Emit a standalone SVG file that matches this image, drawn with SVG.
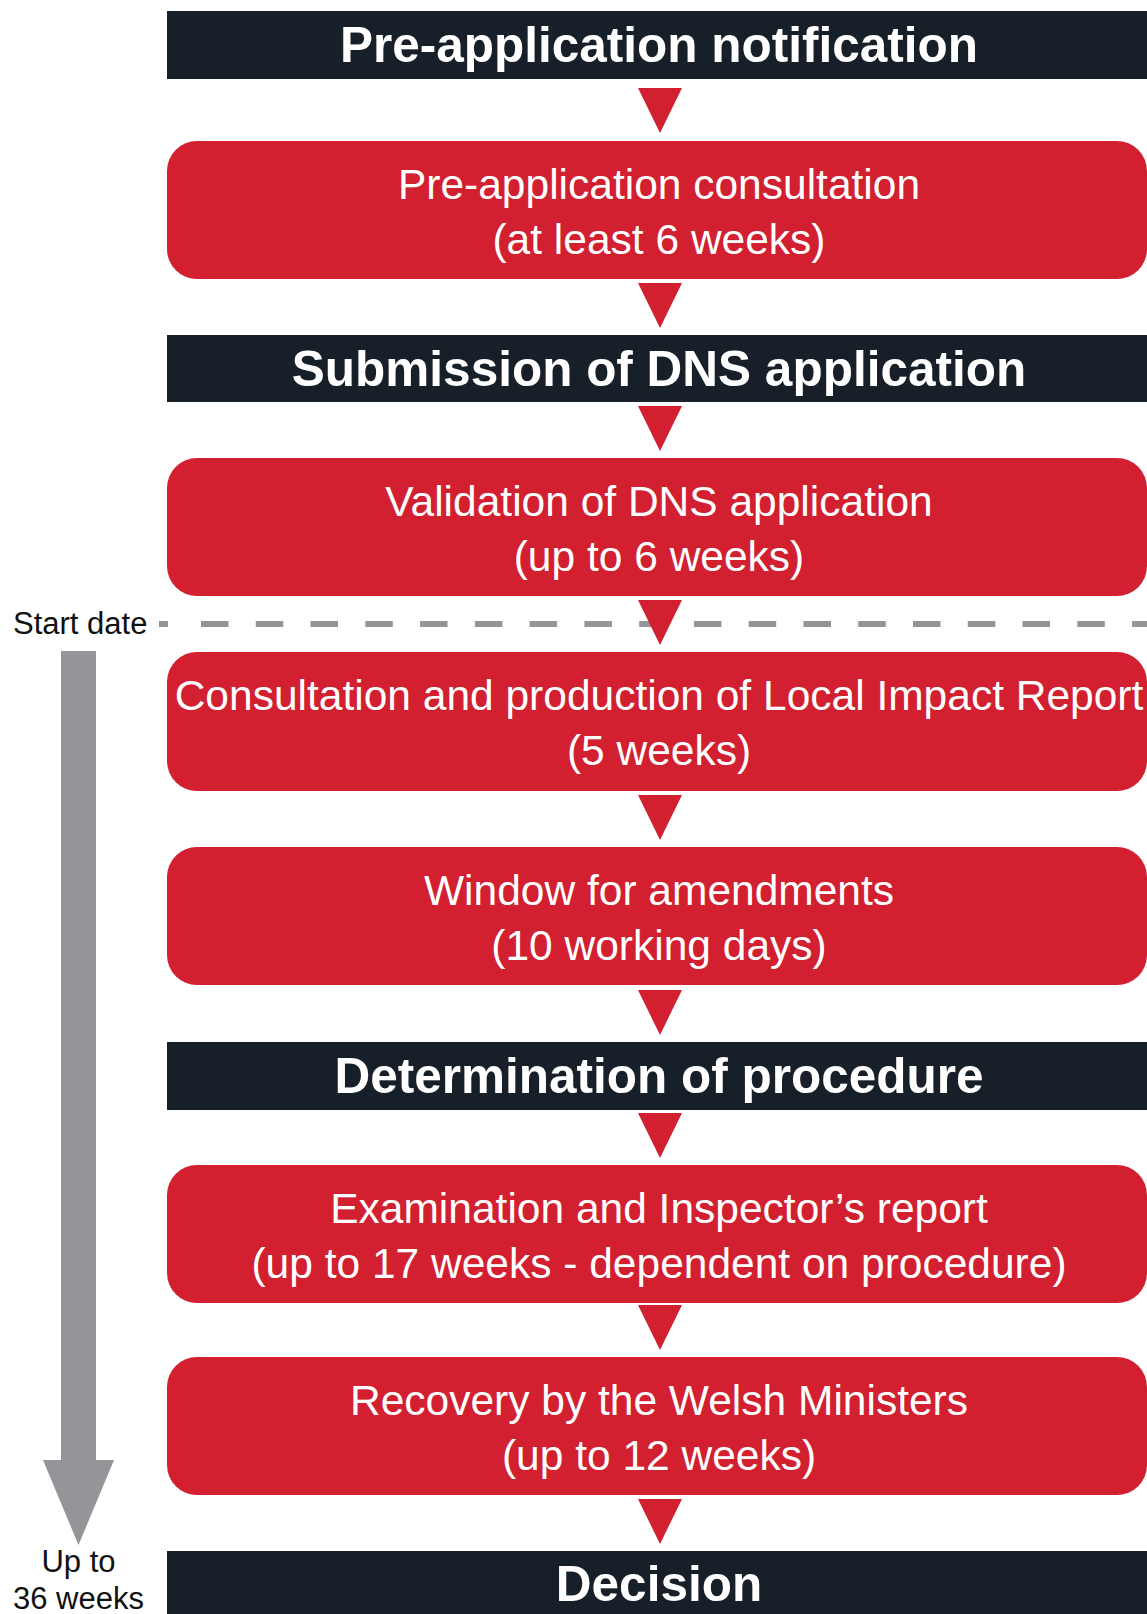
<svg xmlns="http://www.w3.org/2000/svg" width="1147" height="1614" viewBox="0 0 1147 1614">
  <defs>
    <style>
      .hdr { fill: #171f29; }
      .box { fill: #d22030; }
      .tri { fill: #d22030; }
      .ht { font-family: "Liberation Sans", Arial, sans-serif; font-weight: bold; font-size: 49.5px; fill: #ffffff; text-anchor: middle; }
      .bt { font-family: "Liberation Sans", Arial, sans-serif; font-size: 42.5px; fill: #ffffff; text-anchor: middle; }
      .side { font-family: "Liberation Sans", Arial, sans-serif; font-size: 31px; fill: #111111; }
    </style>
  </defs>
  <rect width="1147" height="1614" fill="#ffffff"/>

  <g id="timeline">
    <line x1="159" y1="624" x2="168" y2="624" stroke="#939598" stroke-width="6"/>
    <line x1="201" y1="624" x2="1147" y2="624" stroke="#939598" stroke-width="6" stroke-dasharray="27.5 27.27"/>
    <text class="side" x="13" y="634">Start date</text>
    <path d="M61 651 H96 V1460 H114 L78.5 1545 L43 1460 H61 Z" fill="#939598"/>
    <text class="side" x="78.5" y="1572" text-anchor="middle">Up to</text>
    <text class="side" x="78.5" y="1609" text-anchor="middle">36 weeks</text>
  </g>

  <g id="connectors">
    <polygon class="tri" points="638,88 682,88 660,133"/>
    <polygon class="tri" points="638,283 682,283 660,328"/>
    <polygon class="tri" points="638,406 682,406 660,451"/>
    <polygon class="tri" points="638,600 682,600 660,645"/>
    <polygon class="tri" points="638,795 682,795 660,840"/>
    <polygon class="tri" points="638,990 682,990 660,1035"/>
    <polygon class="tri" points="638,1113 682,1113 660,1158"/>
    <polygon class="tri" points="638,1305 682,1305 660,1350"/>
    <polygon class="tri" points="638,1499 682,1499 660,1544"/>
  </g>

  <g id="n1">
    <rect class="hdr" x="167" y="11" width="980" height="68"/>
    <text class="ht" x="659" y="62">Pre-application notification</text>
  </g>
  <g id="n2">
    <rect class="box" x="167" y="141" width="980" height="138" rx="30"/>
    <text class="bt" x="659" y="198.5">Pre-application consultation</text>
    <text class="bt" x="659" y="253.5">(at least 6 weeks)</text>
  </g>
  <g id="n3">
    <rect class="hdr" x="167" y="335" width="980" height="67"/>
    <text class="ht" x="659" y="386">Submission of DNS application</text>
  </g>
  <g id="n4">
    <rect class="box" x="167" y="458" width="980" height="138" rx="30"/>
    <text class="bt" x="659" y="515.5">Validation of DNS application</text>
    <text class="bt" x="659" y="570.5">(up to 6 weeks)</text>
  </g>
  <g id="n5">
    <rect class="box" x="167" y="652" width="980" height="139" rx="30"/>
    <text class="bt" x="659" y="709.5">Consultation and production of Local Impact Report</text>
    <text class="bt" x="659" y="764.5">(5 weeks)</text>
  </g>
  <g id="n6">
    <rect class="box" x="167" y="847" width="980" height="138" rx="30"/>
    <text class="bt" x="659" y="904.5">Window for amendments</text>
    <text class="bt" x="659" y="959.5">(10 working days)</text>
  </g>
  <g id="n7">
    <rect class="hdr" x="167" y="1042" width="980" height="68"/>
    <text class="ht" x="659" y="1093">Determination of procedure</text>
  </g>
  <g id="n8">
    <rect class="box" x="167" y="1165" width="980" height="138" rx="30"/>
    <text class="bt" x="659" y="1222.5">Examination and Inspector’s report</text>
    <text class="bt" x="659" y="1277.5">(up to 17 weeks - dependent on procedure)</text>
  </g>
  <g id="n9">
    <rect class="box" x="167" y="1357" width="980" height="138" rx="30"/>
    <text class="bt" x="659" y="1414.5">Recovery by the Welsh Ministers</text>
    <text class="bt" x="659" y="1469.5">(up to 12 weeks)</text>
  </g>
  <g id="n10">
    <rect class="hdr" x="167" y="1551" width="980" height="70"/>
    <text class="ht" x="659" y="1601">Decision</text>
  </g>
</svg>
